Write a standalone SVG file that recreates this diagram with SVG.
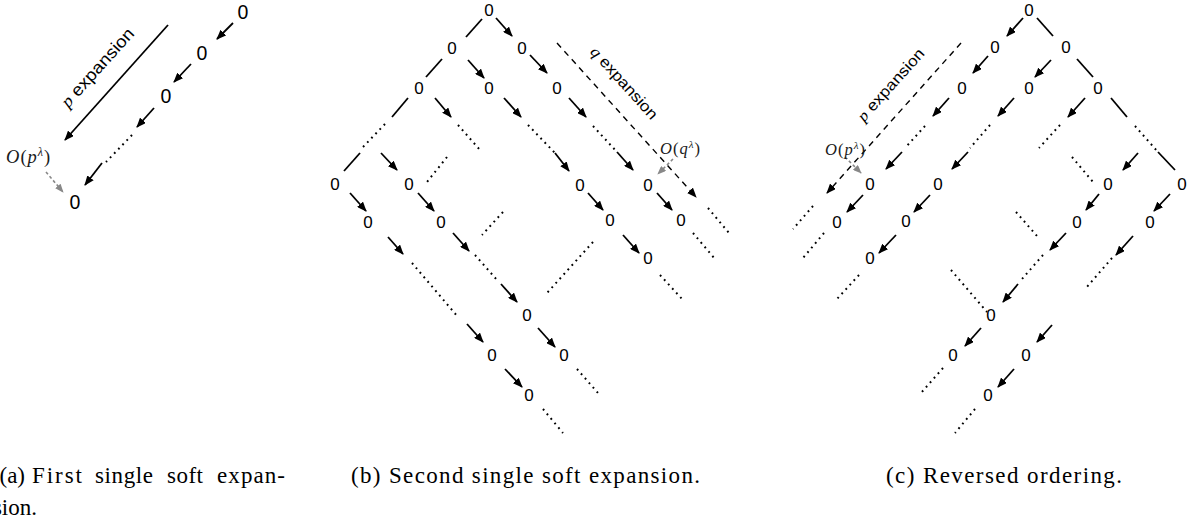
<svg xmlns="http://www.w3.org/2000/svg" width="1198" height="525" viewBox="0 0 1198 525">
<defs>
<marker id="ah" viewBox="0 0 10 8" refX="9" refY="4" markerWidth="10" markerHeight="8" markerUnits="userSpaceOnUse" orient="auto"><path d="M0,0 L10,4 L0,8 z" fill="#000"/></marker>
<marker id="ahg" viewBox="0 0 10 8" refX="9" refY="4" markerWidth="9" markerHeight="7" markerUnits="userSpaceOnUse" orient="auto"><path d="M0,0 L10,4 L0,8 z" fill="#888"/></marker>
<style>
.n{font-family:"Liberation Sans",Arial,sans-serif;font-size:17px;text-anchor:middle;fill:#000}
.na{font-size:19.5px}
.ar{stroke:#000;stroke-width:1.8;fill:none;marker-end:url(#ah)}
.ln{stroke:#000;stroke-width:1.8;fill:none}
.dt{stroke:#000;stroke-width:2;stroke-dasharray:1.8 4.2;fill:none}
.ds{stroke:#000;stroke-width:1.4;stroke-dasharray:6 5;fill:none;marker-end:url(#ah)}
.gr{stroke:#888;stroke-width:1.6;stroke-dasharray:3 2.5;fill:none;marker-end:url(#ahg)}
.cap{font-family:"Liberation Serif","Times New Roman",serif;font-size:23px;fill:#000}
.ex{font-family:"Liberation Sans",Arial,sans-serif;fill:#000;text-anchor:middle}
.m{font-family:"Liberation Serif","Times New Roman",serif;font-style:italic}
.ol{font-family:"Liberation Serif","Times New Roman",serif;fill:#1a1a1a;letter-spacing:1px}
</style>
</defs>
<rect width="1198" height="525" fill="#fff"/>

<g id="connectors">
<!-- panel a -->
<line class="ar" x1="233" y1="23" x2="217" y2="39"/>
<line class="ar" x1="191" y1="64" x2="174" y2="82"/>
<line class="ar" x1="154" y1="108" x2="137" y2="127"/>
<line class="dt" x1="132" y1="135" x2="106" y2="162"/>
<line class="ar" x1="102" y1="163" x2="85" y2="185"/>
<line class="ar" x1="168" y1="25" x2="65" y2="140"/>
<line class="gr" x1="46" y1="172" x2="63" y2="192"/>
<!-- panel b -->
<line class="ln" x1="482" y1="19" x2="466" y2="37"/>
<line class="ln" x1="442" y1="59" x2="426" y2="77"/>
<line class="ln" x1="408" y1="98" x2="392" y2="117"/>
<line class="ln" x1="360" y1="153" x2="344" y2="171"/>
<line class="ar" x1="496" y1="18" x2="512" y2="36"/>
<line class="ar" x1="530" y1="55" x2="547" y2="73"/>
<line class="ar" x1="468" y1="60" x2="484" y2="78"/>
<line class="ar" x1="435" y1="98" x2="451" y2="117"/>
<line class="ar" x1="504" y1="98" x2="521" y2="117"/>
<line class="ar" x1="569" y1="98" x2="586" y2="117"/>
<line class="ar" x1="381" y1="153" x2="397" y2="170"/>
<line class="ar" x1="555" y1="153" x2="569" y2="171"/>
<line class="ar" x1="617" y1="152" x2="633" y2="170"/>
<line class="ar" x1="350" y1="193" x2="366" y2="211"/>
<line class="ar" x1="418" y1="193" x2="434" y2="211"/>
<line class="ar" x1="588" y1="193" x2="603" y2="210"/>
<line class="ar" x1="657" y1="193" x2="672" y2="210"/>
<line class="ar" x1="388" y1="237" x2="403" y2="254"/>
<line class="ar" x1="453" y1="233" x2="469" y2="251"/>
<line class="ar" x1="623" y1="235" x2="639" y2="253"/>
<line class="ar" x1="501" y1="284" x2="517" y2="302"/>
<line class="ar" x1="467" y1="324" x2="483" y2="342"/>
<line class="ar" x1="538" y1="328" x2="555" y2="347"/>
<line class="ar" x1="505" y1="369" x2="522" y2="387"/>
<line class="dt" x1="385" y1="124" x2="363" y2="147"/>
<line class="dt" x1="458" y1="125" x2="480" y2="150"/>
<line class="dt" x1="528" y1="125" x2="555" y2="153"/>
<line class="dt" x1="593" y1="126" x2="617" y2="152"/>
<line class="dt" x1="447" y1="157" x2="427" y2="182"/>
<line class="dt" x1="503" y1="212" x2="482" y2="235"/>
<line class="dt" x1="412" y1="263" x2="458" y2="317"/>
<line class="dt" x1="475" y1="255" x2="497" y2="280"/>
<line class="dt" x1="593" y1="242" x2="547" y2="293"/>
<line class="dt" x1="708" y1="208" x2="729" y2="233"/>
<line class="dt" x1="693" y1="233" x2="715" y2="259"/>
<line class="dt" x1="660" y1="275" x2="682" y2="299"/>
<line class="dt" x1="577" y1="369" x2="598" y2="393"/>
<line class="dt" x1="543" y1="409" x2="563" y2="433"/>
<line class="ds" x1="557" y1="43" x2="696" y2="197"/>
<line class="gr" x1="673" y1="159" x2="658" y2="174"/>
<!-- panel c -->
<line class="ln" x1="1037" y1="18" x2="1053" y2="36"/>
<line class="ln" x1="1077" y1="59" x2="1093" y2="77"/>
<line class="ln" x1="1111" y1="98" x2="1127" y2="117"/>
<line class="ln" x1="1158" y1="152" x2="1175" y2="170"/>
<line class="ar" x1="1023" y1="18" x2="1007" y2="36"/>
<line class="ar" x1="988" y1="56" x2="973" y2="73"/>
<line class="ar" x1="1051" y1="60" x2="1035" y2="77"/>
<line class="ar" x1="949" y1="98" x2="933" y2="116"/>
<line class="ar" x1="1014" y1="98" x2="998" y2="116"/>
<line class="ar" x1="1085" y1="98" x2="1068" y2="117"/>
<line class="ar" x1="902" y1="152" x2="886" y2="169"/>
<line class="ar" x1="968" y1="152" x2="952" y2="169"/>
<line class="ar" x1="1138" y1="153" x2="1123" y2="170"/>
<line class="ar" x1="863" y1="195" x2="847" y2="212"/>
<line class="ar" x1="930" y1="195" x2="914" y2="212"/>
<line class="ar" x1="1099" y1="194" x2="1086" y2="210"/>
<line class="ar" x1="1170" y1="194" x2="1154" y2="211"/>
<line class="ar" x1="896" y1="235" x2="879" y2="253"/>
<line class="ar" x1="1066" y1="233" x2="1050" y2="250"/>
<line class="ar" x1="1133" y1="236" x2="1116" y2="255"/>
<line class="ar" x1="1018" y1="284" x2="1003" y2="302"/>
<line class="ar" x1="981" y1="328" x2="965" y2="346"/>
<line class="ar" x1="1052" y1="325" x2="1037" y2="342"/>
<line class="ar" x1="1014" y1="369" x2="998" y2="387"/>
<line class="dt" x1="925" y1="126" x2="905" y2="148"/>
<line class="dt" x1="990" y1="125" x2="970" y2="148"/>
<line class="dt" x1="1060" y1="125" x2="1039" y2="148"/>
<line class="dt" x1="1135" y1="126" x2="1158" y2="152"/>
<line class="dt" x1="1072" y1="157" x2="1093" y2="182"/>
<line class="dt" x1="813" y1="206" x2="793" y2="229"/>
<line class="dt" x1="824" y1="233" x2="803" y2="258"/>
<line class="dt" x1="859" y1="275" x2="837" y2="299"/>
<line class="dt" x1="951" y1="270" x2="987" y2="312"/>
<line class="dt" x1="1016" y1="212" x2="1037" y2="236"/>
<line class="dt" x1="1043" y1="255" x2="1022" y2="279"/>
<line class="dt" x1="1112" y1="258" x2="1086" y2="288"/>
<line class="dt" x1="943" y1="368" x2="921" y2="393"/>
<line class="dt" x1="975" y1="409" x2="955" y2="433"/>
<line class="ds" x1="961" y1="43" x2="827" y2="193"/>
<line class="gr" x1="845" y1="157" x2="861" y2="173"/>
</g>

<!-- panel a nodes -->
<g id="a-n1"><text class="n na" x="243" y="19">0</text></g>
<g id="a-n2"><text class="n na" x="202" y="60">0</text></g>
<g id="a-n3"><text class="n na" x="166" y="103">0</text></g>
<g id="a-n4"><text class="n na" x="75" y="209">0</text></g>

<!-- panel b nodes -->
<g id="b-n1"><text class="n" x="489" y="16">0</text></g>
<g id="b-n2"><text class="n" x="452" y="54">0</text></g>
<g id="b-n3"><text class="n" x="522" y="54">0</text></g>
<g id="b-n4"><text class="n" x="419" y="94">0</text></g>
<g id="b-n5"><text class="n" x="489" y="94">0</text></g>
<g id="b-n6"><text class="n" x="557" y="94">0</text></g>
<g id="b-n7"><text class="n" x="335" y="190">0</text></g>
<g id="b-n8"><text class="n" x="409" y="190">0</text></g>
<g id="b-n9"><text class="n" x="580" y="191">0</text></g>
<g id="b-n10"><text class="n" x="648" y="191">0</text></g>
<g id="b-n11"><text class="n" x="368" y="228">0</text></g>
<g id="b-n12"><text class="n" x="441" y="228">0</text></g>
<g id="b-n13"><text class="n" x="610" y="226">0</text></g>
<g id="b-n14"><text class="n" x="681" y="226">0</text></g>
<g id="b-n15"><text class="n" x="648" y="264">0</text></g>
<g id="b-n16"><text class="n" x="527" y="321">0</text></g>
<g id="b-n17"><text class="n" x="492" y="361">0</text></g>
<g id="b-n18"><text class="n" x="564" y="361">0</text></g>
<g id="b-n19"><text class="n" x="529" y="401">0</text></g>

<!-- panel c nodes -->
<g id="c-n1"><text class="n" x="1029" y="16">0</text></g>
<g id="c-n2"><text class="n" x="995" y="53">0</text></g>
<g id="c-n3"><text class="n" x="1066" y="53">0</text></g>
<g id="c-n4"><text class="n" x="962" y="94">0</text></g>
<g id="c-n5"><text class="n" x="1029" y="94">0</text></g>
<g id="c-n6"><text class="n" x="1098" y="94">0</text></g>
<g id="c-n7"><text class="n" x="870" y="190">0</text></g>
<g id="c-n8"><text class="n" x="938" y="190">0</text></g>
<g id="c-n9"><text class="n" x="1108" y="190">0</text></g>
<g id="c-n10"><text class="n" x="1182" y="190">0</text></g>
<g id="c-n11"><text class="n" x="837" y="228">0</text></g>
<g id="c-n12"><text class="n" x="906" y="227">0</text></g>
<g id="c-n13"><text class="n" x="1077" y="228">0</text></g>
<g id="c-n14"><text class="n" x="1150" y="228">0</text></g>
<g id="c-n15"><text class="n" x="870" y="264">0</text></g>
<g id="c-n16"><text class="n" x="991" y="321">0</text></g>
<g id="c-n17"><text class="n" x="953" y="361">0</text></g>
<g id="c-n18"><text class="n" x="1026" y="361">0</text></g>
<g id="c-n19"><text class="n" x="988" y="401">0</text></g>

<!-- labels -->
<g id="a-label">
<text class="ex" font-size="17" transform="translate(98,68) rotate(-48)" y="5" textLength="100" lengthAdjust="spacingAndGlyphs"><tspan class="m">p</tspan> expansion</text>
<text class="ol" font-size="18.5" x="6" y="163"><tspan class="m">O</tspan>(<tspan class="m">p</tspan><tspan class="m" font-size="12" dy="-7">λ</tspan><tspan dy="7">)</tspan></text>
</g>
<g id="b-label">
<text class="ex" font-size="15.5" transform="translate(624,83) rotate(48)" y="5" textLength="92" lengthAdjust="spacingAndGlyphs"><tspan class="m">q</tspan> expansion</text>
<text class="ol" font-size="16.5" x="660" y="154"><tspan class="m">O</tspan>(<tspan class="m">q</tspan><tspan class="m" font-size="11" dy="-6">λ</tspan><tspan dy="6">)</tspan></text>
</g>
<g id="c-label">
<text class="ex" font-size="15.5" transform="translate(891,85) rotate(-48)" y="5" textLength="92" lengthAdjust="spacingAndGlyphs"><tspan class="m">p</tspan> expansion</text>
<text class="ol" font-size="16.5" x="825" y="155"><tspan class="m">O</tspan>(<tspan class="m">p</tspan><tspan class="m" font-size="11" dy="-6">λ</tspan><tspan dy="6">)</tspan></text>
</g>

<!-- captions -->
<g id="captions">
<text class="cap" x="25" y="483" text-anchor="end">(a)</text>
<text class="cap" x="32" y="483" textLength="50">First</text>
<text class="cap" x="95" y="483" textLength="58">single</text>
<text class="cap" x="167" y="483" textLength="36">soft</text>
<text class="cap" x="217" y="483" textLength="68">expan-</text>
<text class="cap" x="37" y="515" text-anchor="end">sion.</text>
<text class="cap" x="351" y="483" textLength="349">(b) Second single soft expansion.</text>
<text class="cap" x="886" y="483" textLength="236">(c) Reversed ordering.</text>
</g>
</svg>
